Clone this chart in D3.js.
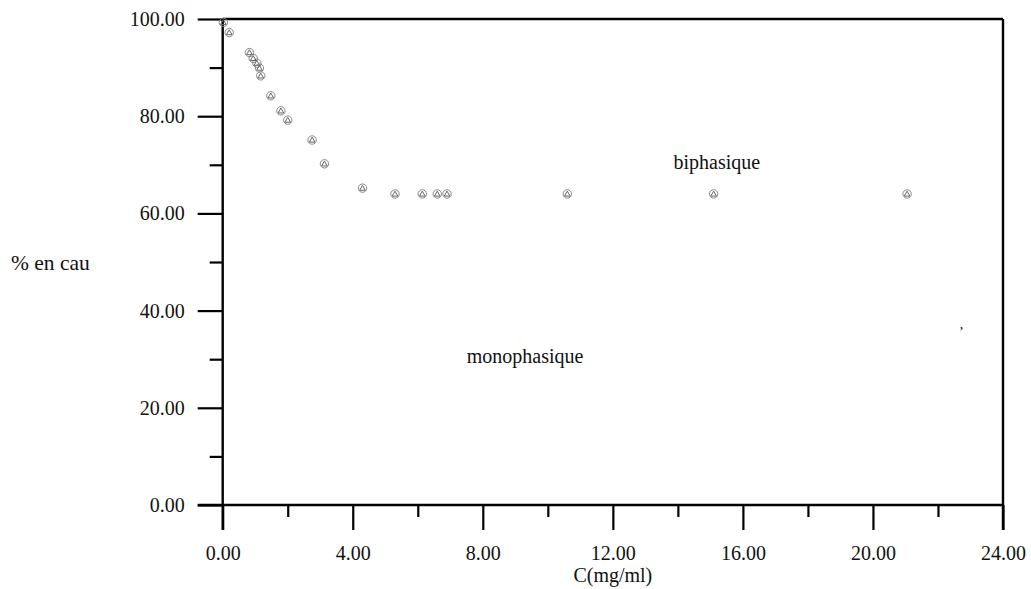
<!DOCTYPE html>
<html>
<head>
<meta charset="utf-8">
<script src="https://cdn.jsdelivr.net/npm/d3@7"></script>
<style>
  html, body { margin: 0; padding: 0; background: #fff; }
  svg text { font-family: "Liberation Serif", "DejaVu Serif", serif; fill: #111; }
</style>
</head>
<body>
<svg id="chart" width="1031" height="589"></svg>
<script>
// Data
const concentration = [0.02, 0.2, 0.82, 0.94, 1.05, 1.13, 1.17, 1.48, 1.79, 2.0, 2.75, 3.13, 4.3, 5.3, 6.14, 6.6, 6.9, 10.6, 15.1, 21.05];
const waterPercent = [99.3, 97.2, 93.1, 91.9, 90.9, 89.9, 88.3, 84.2, 81.1, 79.2, 75.1, 70.2, 65.2, 64.0, 64.0, 64.0, 64.0, 64.0, 64.0, 64.0];
const xMajorTicks = [0, 4, 8, 12, 16, 20, 24];
const xMinorTicks = [2, 6, 10, 14, 18, 22];
const yMajorTicks = [0, 20, 40, 60, 80, 100];
const yMinorTicks = [10, 30, 50, 70, 90];
const regionLabels = [
  { text: "biphasique", x: 15.2, y: 69.1 },
  { text: "monophasique", x: 9.3, y: 29.2 }
];
const xTitle = "C(mg/ml)";
const yTitle = "% en cau";

(function () {
const svg = d3.select("#chart");
const serif = '"Liberation Serif", "DejaVu Serif", serif';
const pL = 222.7, pR = 1003, pT = 19, pB = 505;
const x = d3.scaleLinear().domain([0, 24]).range([pL, pR]);
const y = d3.scaleLinear().domain([0, 100]).range([pB, pT]);
const fmt = d3.format(".2f");

// X axis major + minor
const gxMaj = svg.append("g").attr("transform", `translate(0,${pB})`)
  .call(d3.axisBottom(x).tickValues(xMajorTicks).tickSize(25).tickPadding(16).tickFormat(fmt));
const gxMin = svg.append("g").attr("transform", `translate(0,${pB})`)
  .call(d3.axisBottom(x).tickValues(xMinorTicks).tickSize(12).tickFormat(""));
// Y axis major + minor
const gyMaj = svg.append("g").attr("transform", `translate(${pL},0)`)
  .call(d3.axisLeft(y).tickValues(yMajorTicks).tickSize(25).tickPadding(13).tickFormat(fmt));
const gyMin = svg.append("g").attr("transform", `translate(${pL},0)`)
  .call(d3.axisLeft(y).tickValues(yMinorTicks).tickSize(13).tickFormat(""));

[gxMaj, gxMin, gyMaj, gyMin].forEach(g => {
  g.attr("font-family", null);
  g.select(".domain").remove();
  g.selectAll(".tick line").attr("stroke", "#000").attr("stroke-width", 2.2);
  g.selectAll(".tick text").attr("font-size", 20).attr("fill", "#111")
    .style("font-family", serif);
});

// Frame
const frame = svg.append("g").attr("stroke", "#000").attr("stroke-width", 2.4).attr("fill", "none");
frame.append("line").attr("x1", pL).attr("x2", pL).attr("y1", pT - 1).attr("y2", pB + 25);
frame.append("line").attr("x1", pL - 25).attr("x2", pR).attr("y1", pB).attr("y2", pB);
frame.append("line").attr("x1", pL).attr("x2", pR).attr("y1", pT).attr("y2", pT);
frame.append("line").attr("x1", pR).attr("x2", pR).attr("y1", pT).attr("y2", pB + 25);

// Markers
const pts = concentration.map((c, i) => ({ c, w: waterPercent[i] }));
const mk = svg.append("g");
mk.selectAll("circle").data(pts).join("circle")
  .attr("cx", d => x(d.c)).attr("cy", d => y(d.w)).attr("r", 4.2)
  .attr("fill", "none").attr("stroke", "#888").attr("stroke-width", 1);
mk.selectAll("path").data(pts).join("path")
  .attr("transform", d => `translate(${x(d.c)},${y(d.w) + 0.5})`)
  .attr("d", d3.symbol().type(d3.symbolTriangle).size(14))
  .attr("fill", "none").attr("stroke", "#666").attr("stroke-width", 1);

// Region labels
svg.selectAll(".region").data(regionLabels).join("text")
  .attr("class", "region")
  .attr("x", d => x(d.x)).attr("y", d => y(d.y))
  .attr("text-anchor", "middle").attr("font-size", 20)
  .style("font-family", serif)
  .text(d => d.text);

// stray mark
svg.append("text").attr("x", x(22.72)).attr("y", y(34.5)).attr("font-size", 14)
  .attr("text-anchor", "middle").style("font-family", serif).text("ʼ");

// Axis titles
svg.append("text").attr("x", (pL + pR) / 2).attr("y", 582)
  .attr("text-anchor", "middle").attr("font-size", 20).style("font-family", serif).text(xTitle);
svg.append("text").attr("x", 11).attr("y", 270)
  .attr("text-anchor", "start").attr("font-size", 21.5).style("font-family", serif).text(yTitle);
})();
</script>
</body>
</html>
